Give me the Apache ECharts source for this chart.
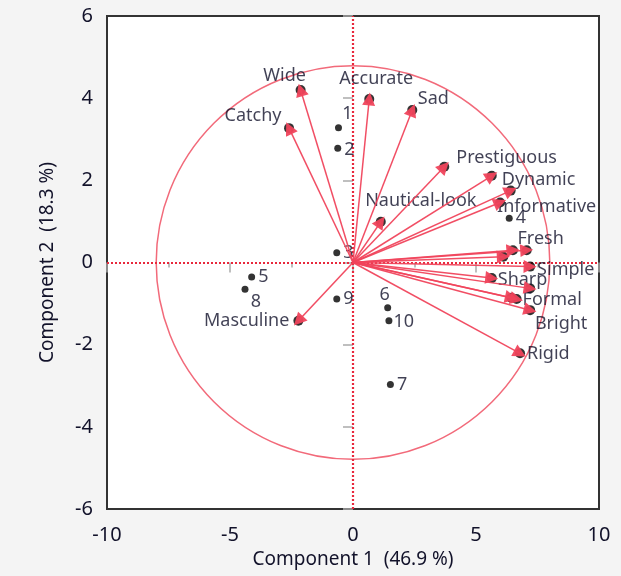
<!DOCTYPE html>
<html>
<head>
<meta charset="utf-8">
<script src="https://cdn.jsdelivr.net/npm/echarts@6/dist/echarts.min.js"></script>
<style>
html,body{margin:0;padding:0;background:#f4f4f4;}
#chart{width:621px;height:576px;}
</style>
</head>
<body>
<div id="chart"></div>
<script>
// ---- data ----
var xTicks = [-10, -5, 0, 5, 10];
var yTicks = [-6, -4, -2, 0, 2, 4, 6];
var xTitle = 'Component 1  (46.9 %)';
var yTitle = 'Component 2  (18.3 %)';

var varNames = ['Wide','Accurate','Sad','Catchy','Prestiguous','Dynamic','','Informative','Nautical-look','','Fresh','','Simple','Sharp','','Formal','','Bright','Rigid','Masculine'];
var varX = [-2.13, 0.66, 2.41, -2.60, 3.71, 5.64, 6.41, 5.98, 1.13, 6.50, 7.06, 6.11, 7.20, 5.64, 7.20, 6.65, 6.44, 7.20, 6.79, -2.22];
var varY = [4.20, 3.98, 3.71, 3.27, 2.33, 2.11, 1.75, 1.46, 0.99, 0.30, 0.30, 0.14, -0.10, -0.38, -0.63, -0.89, -0.86, -1.16, -2.21, -1.42];

var obsNames = ['1','2','3','4','5','6','7','8','9','10'];
var obsX = [-0.59, -0.62, -0.66, 6.35, -4.12, 1.41, 1.52, -4.39, -0.66, 1.46];
var obsY = [3.28, 2.78, 0.24, 1.08, -0.35, -1.10, -2.97, -0.65, -0.89, -1.42];

var circleRadius = 8.0; // in Component 1 units

// ---- styles (label placement) ----
var varLabel = {
  'Wide': ['top', [-16, 4]],
  'Accurate': ['top', [7, -2]],
  'Sad': ['top', [21, 7]],
  'Catchy': ['top', [-36, 6]],
  'Prestiguous': ['right', [3, -9]],
  'Dynamic': ['right', [1, 4]],
  'Informative': ['right', [-12, 4]],
  'Nautical-look': ['top', [40, -3]],
  'Fresh': ['top', [14, 7]],
  'Simple': ['right', [-2, 3]],
  'Sharp': ['right', [-3, 2]],
  'Formal': ['right', [-3, 1]],
  'Bright': ['bottom', [31, -4]],
  'Rigid': ['right', [-2, 1]],
  'Masculine': ['left', [0, 0]]
};
var obsLabel = {
  '1': ['top', [9, 2]],
  '2': ['right', [0, 2]],
  '6': ['top', [-3, 3]],
  '8': ['bottom', [11, -3]],
  '10': ['right', [-2, 1]]
};

var FONT = 'Noto Sans';
var TXT = '#12122a';
var RED = '#f0445c';

var vecLines = varX.map(function (x, i) {
  return { coords: [[0, 0], [x, varY[i]]] };
});
var vecEnds = varX.map(function (x, i) {
  var n = varNames[i];
  var p = varLabel[n] || ['right', [0, 0]];
  return {
    value: [x, varY[i]], name: n,
    label: { show: n !== '', position: p[0], offset: p[1] }
  };
});
var obsPts = obsX.map(function (x, i) {
  var n = obsNames[i];
  var p = obsLabel[n] || ['right', [0, 0]];
  return { value: [x, obsY[i]], name: n, label: { position: p[0], offset: p[1] } };
});

var chart = echarts.init(document.getElementById('chart'));
chart.setOption({
  animation: false,
  backgroundColor: '#f4f4f4',
  textStyle: { fontFamily: FONT },
  grid: {
    left: 107, right: 22, top: 16, bottom: 67,
    show: true, backgroundColor: '#ffffff', borderColor: '#333333', borderWidth: 2
  },
  xAxis: {
    type: 'value', min: xTicks[0], max: xTicks[xTicks.length - 1], interval: 5,
    name: xTitle, nameLocation: 'middle', nameGap: 39,
    nameTextStyle: { fontFamily: FONT, fontSize: 19, color: TXT },
    axisLine: { show: false },
    axisTick: { show: true, inside: false, length: 10, lineStyle: { color: '#aaaaaa', width: 1.5 } },
    minorTick: { show: true, splitNumber: 2, length: 5, lineStyle: { color: '#aaaaaa', width: 1.5 } },
    splitLine: { show: false },
    axisLabel: { fontFamily: FONT, fontSize: 20, color: TXT, margin: 16 }
  },
  yAxis: {
    type: 'value', min: yTicks[0], max: yTicks[yTicks.length - 1], interval: 2,
    name: yTitle, nameLocation: 'middle', nameGap: 50,
    nameTextStyle: { fontFamily: FONT, fontSize: 19, color: TXT },
    axisLine: { show: false },
    axisTick: { show: true, inside: false, length: 10, lineStyle: { color: '#aaaaaa', width: 1.5 } },
    splitLine: { show: false },
    axisLabel: { fontFamily: FONT, fontSize: 20, color: TXT, margin: 14 }
  },
  series: [
    {
      type: 'scatter', name: 'obs', z: 5,
      symbol: 'circle', symbolSize: 7,
      itemStyle: { color: '#000000' },
      label: { show: true, formatter: '{b}', fontFamily: FONT, fontSize: 18, color: TXT, distance: 3 },
      data: obsPts,
      markLine: {
        silent: true, symbol: 'none', label: { show: false },
        lineStyle: { color: '#e8283c', type: [2, 2], width: 2.2 },
        data: [{ xAxis: 0 }, { yAxis: 0 }]
      }
    },
    {
      type: 'scatter', name: 'varEnds', z: 6,
      symbol: 'circle', symbolSize: 10,
      itemStyle: { color: '#000000' },
      label: { formatter: '{b}', fontFamily: FONT, fontSize: 18, color: TXT, distance: 4 },
      data: vecEnds
    },
    {
      type: 'lines', name: 'vectors', coordinateSystem: 'cartesian2d', z: 7,
      symbol: ['none', 'triangle'], symbolSize: [11, 13],
      lineStyle: { color: RED, width: 1.5, opacity: 0.95 },
      data: vecLines
    }
  ]
});

// correlation circle, centred on the origin, radius taken from the axis scale
var c0 = chart.convertToPixel({ gridIndex: 0 }, [0, 0]);
var c1 = chart.convertToPixel({ gridIndex: 0 }, [circleRadius, 0]);
chart.setOption({
  graphic: [{
    type: 'circle', z: 3, silent: true,
    shape: { cx: c0[0], cy: c0[1], r: c1[0] - c0[0] },
    style: { fill: 'none', stroke: '#f26a7a', lineWidth: 1.5 }
  }]
});
</script>
</body>
</html>
